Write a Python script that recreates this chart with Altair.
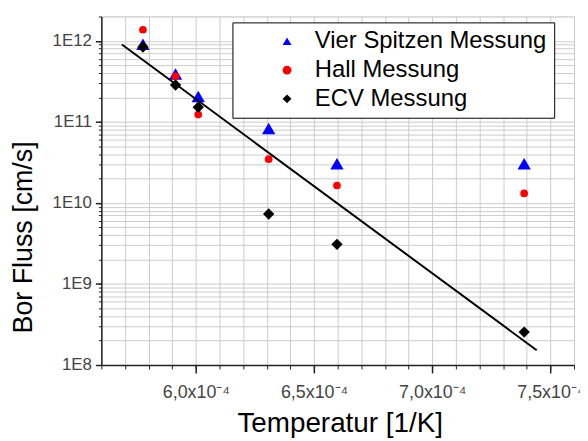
import altair as alt
import pandas as pd

# inverse temperature [1/K]
x_vals = [5.776e-4, 5.914e-4, 6.010e-4, 6.308e-4, 6.597e-4, 7.389e-4]
vier_spitzen = [9.1e11, 3.9e11, 2.06e11, 8.3e10, 3.05e10, 3.05e10]
hall = [1.37e12, 3.64e11, 1.23e11, 3.47e10, 1.64e10, 1.31e10]
ecv = [8.4e11, 2.85e11, 1.52e11, 7.3e9, 3.08e9, 2.55e8]
series_names = ["Vier Spitzen Messung", "Hall Messung", "ECV Messung"]
series_colors = ["#0000ff", "#ff0000", "#000000"]
series_shapes = ["triangle-up", "circle", "diamond"]

fit_x = [5.687e-4, 7.442e-4]
fit_y = [9.0e11, 1.52e8]

x_major = [6.0e-4, 6.5e-4, 7.0e-4, 7.5e-4]
x_minor = [5.6e-4, 5.7e-4, 5.8e-4, 5.9e-4, 6.0e-4, 6.1e-4, 6.2e-4, 6.3e-4, 6.4e-4,
           6.5e-4, 6.6e-4, 6.7e-4, 6.8e-4, 6.9e-4, 7.0e-4, 7.1e-4, 7.2e-4, 7.3e-4,
           7.4e-4, 7.5e-4, 7.6e-4]
y_major = [1e8, 1e9, 1e10, 1e11, 1e12]
y_minor = [m * 10.0 ** d for d in range(8, 12) for m in range(1, 10)] + [1e12, 2e12]

rows = []
for name, vals in zip(series_names, [vier_spitzen, hall, ecv]):
    for xv, yv in zip(x_vals, vals):
        rows.append({"x": xv, "y": yv, "Serie": name})
df = pd.DataFrame(rows)
fit_df = pd.DataFrame({"x": fit_x, "y": fit_y})

FONT = "Liberation Sans"
x_scale = alt.Scale(domain=[5.6e-4, 7.6e-4], nice=False, zero=False)
y_scale = alt.Scale(type="log", domain=[1e8, 2e12], nice=False)

size_rule = (alt.when(alt.datum.Serie == series_names[0]).then(alt.value(180))
             .when(alt.datum.Serie == series_names[1]).then(alt.value(60))
             .otherwise(alt.value(130)))

points = alt.Chart(df).mark_point(filled=True, opacity=1).encode(
    x=alt.X("x:Q", scale=x_scale,
            axis=alt.Axis(values=x_minor, grid=True, gridColor="#cccccc", gridWidth=1,
                          tickSize=4, tickColor="#222222", labels=False, title=None,
                          domainColor="#222222", domainWidth=1.5, orient="bottom")),
    y=alt.Y("y:Q", scale=y_scale,
            axis=alt.Axis(values=y_minor, grid=True, gridColor="#cccccc", gridWidth=1,
                          tickSize=3, tickColor="#222222", labels=False, title=None,
                          domainColor="#222222", domainWidth=1.5, orient="left")),
    color=alt.Color("Serie:N", sort=series_names,
                    scale=alt.Scale(domain=series_names, range=series_colors),
                    legend=alt.Legend(title=None, orient="none", legendX=132, legendY=6,
                                      labelFont=FONT, labelFontSize=24, labelColor="black",
                                      labelLimit=400,
                                      symbolSize=80, symbolOffset=36, labelOffset=16,
                                      padding=7, rowPadding=5,
                                      strokeColor="black", fillColor="white",
                                      symbolStrokeWidth=0)),
    shape=alt.Shape("Serie:N", sort=series_names,
                    scale=alt.Scale(domain=series_names, range=series_shapes)),
    size=size_rule,
)

fit = alt.Chart(fit_df).mark_line(color="black", strokeWidth=2).encode(
    x=alt.X("x:Q", scale=x_scale,
            axis=alt.Axis(values=x_major, grid=False, tickSize=8, tickColor="#222222",
                          tickWidth=1.5, domain=False, orient="bottom",
                          labelExpr="replace(format(datum.value*10000, '.1f'), '.', ',') + 'x10⁻⁴'",
                          labelFont=FONT, labelFontSize=18, labelColor="#444444",
                          labelBaseline="alphabetic", labelPadding=25, labelFlush=False,
                          title="Temperatur [1/K]", titleFont=FONT, titleFontSize=28,
                          titleFontWeight="normal", titleColor="black",
                          titleBaseline="alphabetic", titleX=240, titleY=67)),
    y=alt.Y("y:Q", scale=y_scale,
            axis=alt.Axis(values=y_major, grid=False, tickSize=6, tickColor="#222222",
                          tickWidth=1.5, domain=False, orient="left",
                          labelExpr="'1E' + format(log(datum.value)/LN10, '.0f')",
                          labelFont=FONT, labelFontSize=17, labelColor="#444444",
                          labelPadding=4, labelFlush=False,
                          title="Bor Fluss [cm/s]", titleFont=FONT, titleFontSize=27,
                          titleFontWeight="normal", titleColor="black",
                          titleAngle=270, titleBaseline="alphabetic", titleAlign="center",
                          titleX=-70, titleY=222)),
)

chart = alt.layer(points, fit).resolve_axis(x="independent", y="independent").properties(
    width=476, height=351,
    autosize=alt.AutoSizeParams(type="none"),
    padding={"left": 94, "top": 7, "right": 6, "bottom": 72},
).configure_view(stroke="black", strokeWidth=1.5).configure(background="white")

chart.save("out.html", embed_options={"renderer": "svg", "actions": False})
